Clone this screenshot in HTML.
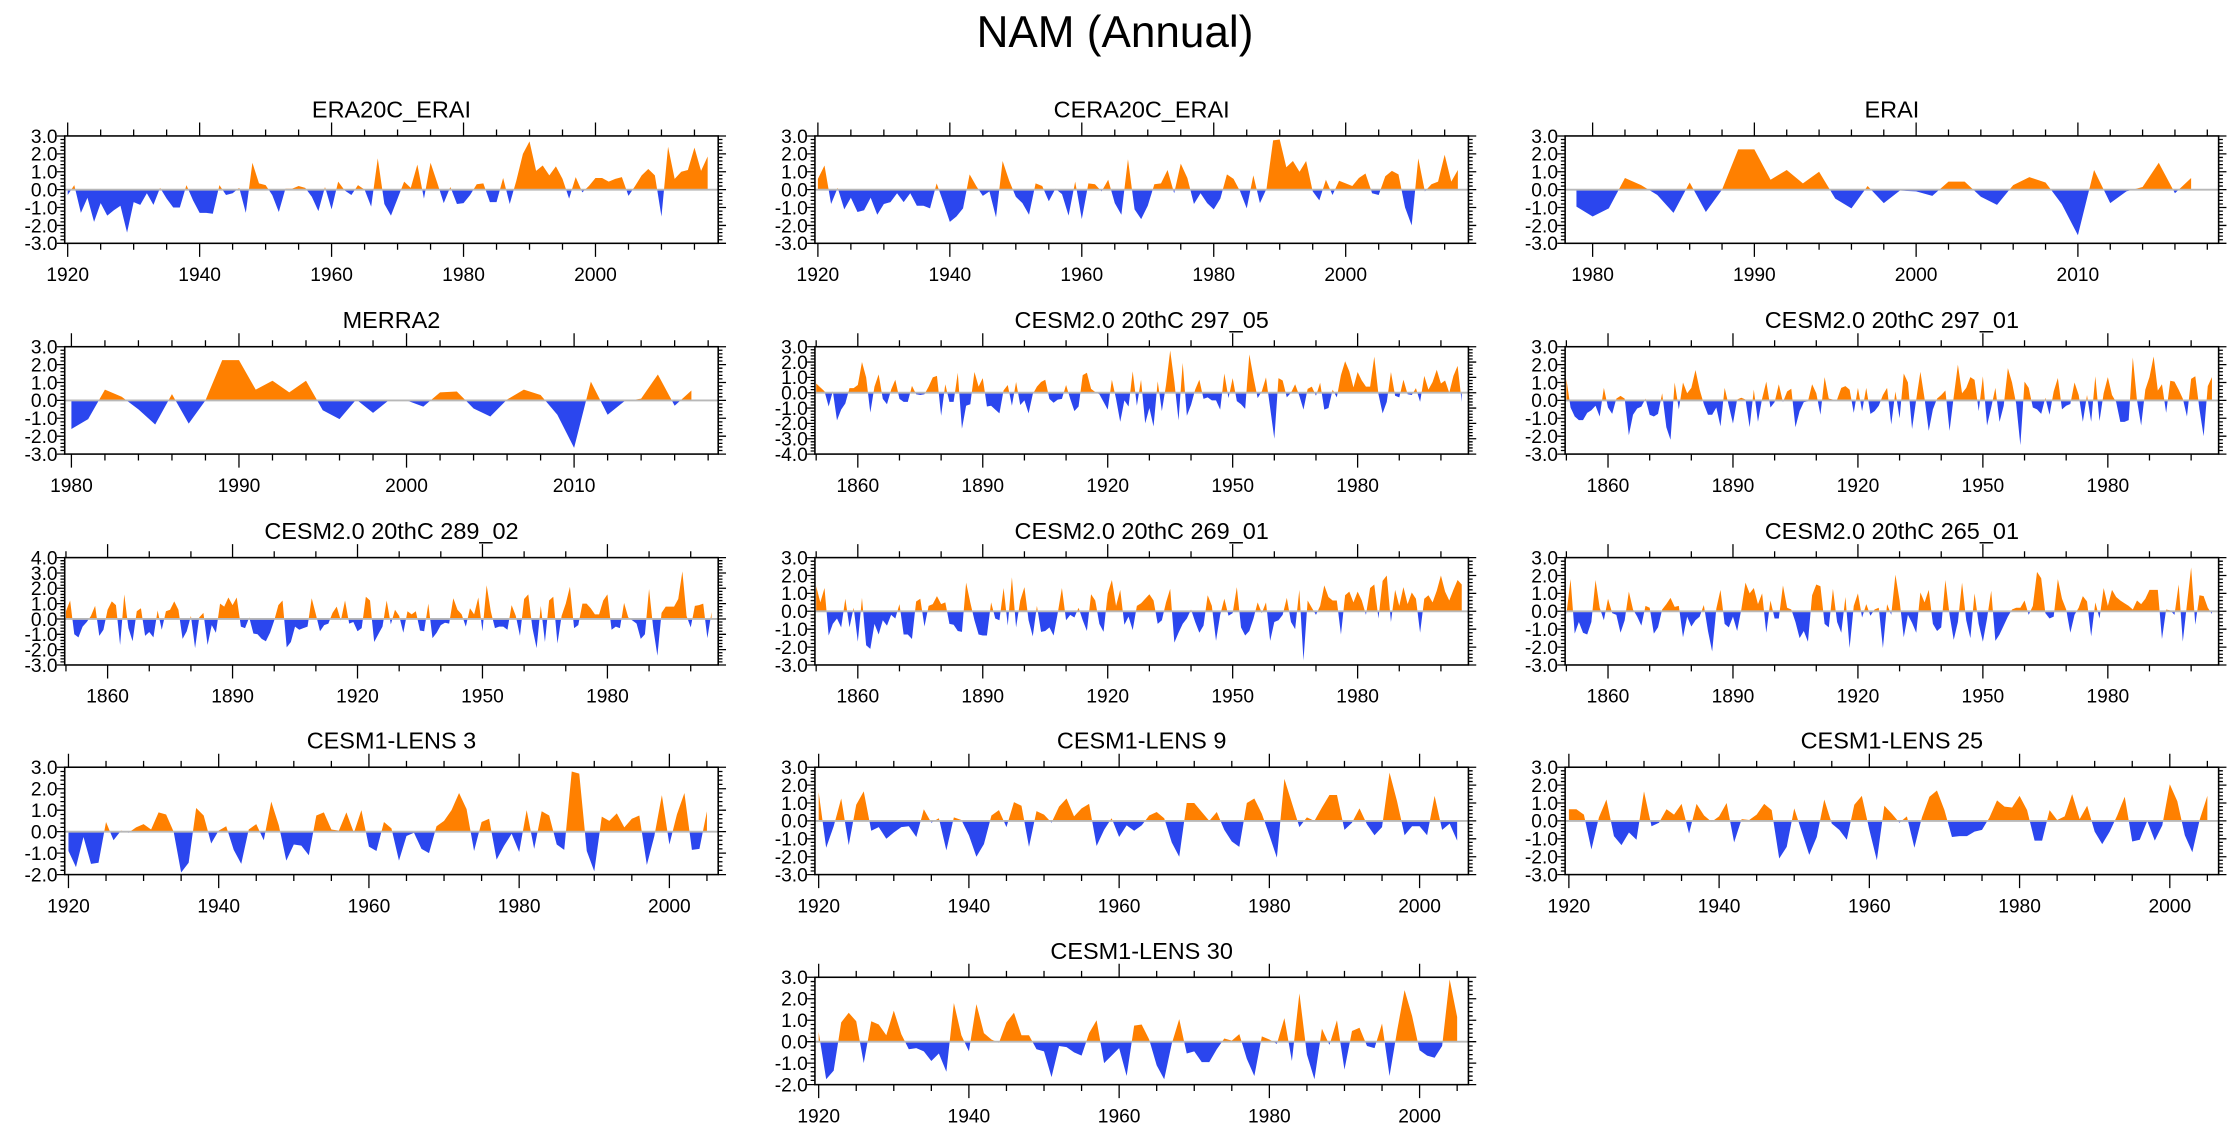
<!DOCTYPE html>
<html><head><meta charset="utf-8"><title>NAM (Annual)</title>
<style>html,body{margin:0;padding:0;background:#fff;}svg{display:block;}text{font-family:"Liberation Sans",Arial,sans-serif;fill:#000;}</style>
</head><body>
<svg id="fig" xmlns="http://www.w3.org/2000/svg" width="2230" height="1132" viewBox="0 0 1568 796" preserveAspectRatio="none">
<text x="784" y="33" font-size="31" text-anchor="middle">NAM (Annual)</text>
</svg>
<script>
const era20cVals=[-0.3,0.25,-1.3,-0.45,-1.8,-0.75,-1.45,-1.15,-0.9,-2.4,-0.7,-0.85,-0.2,-0.85,0.1,-0.5,-1.0,-1.0,0.25,-0.6,-1.3,-1.3,-1.35,0.25,-0.3,-0.2,0.1,-1.3,1.5,0.35,0.25,-0.3,-1.25,0.05,0.05,0.2,0.1,-0.4,-1.2,0.15,-1.1,0.45,-0.05,-0.3,0.25,0.0,-0.95,1.75,-0.8,-1.45,-0.5,0.45,0.1,1.4,-0.5,1.5,0.4,-0.75,0.15,-0.8,-0.75,-0.3,0.3,0.35,-0.7,-0.7,0.65,-0.8,0.5,2.0,2.7,1.05,1.35,0.8,1.3,0.6,-0.5,0.7,-0.15,0.2,0.65,0.65,0.45,0.6,0.7,-0.35,0.2,0.8,1.15,0.8,-1.5,2.4,0.6,1.0,1.1,2.35,1.05,1.85];
const cera20cVals=[0.6,1.35,-0.8,0.1,-1.1,-0.45,-1.25,-1.15,-0.45,-1.4,-0.8,-0.7,-0.2,-0.7,-0.2,-0.9,-0.9,-1.05,0.35,-0.7,-1.8,-1.5,-1.05,0.85,0.2,-0.35,-0.1,-1.55,1.6,0.5,-0.4,-0.75,-1.4,0.35,0.2,-0.65,0.05,-0.25,-1.45,0.45,-1.65,0.35,0.3,-0.1,0.55,-0.75,-1.4,1.7,-1.1,-1.65,-0.9,0.3,0.35,1.1,-0.2,1.45,0.65,-0.8,-0.2,-0.75,-1.1,-0.5,0.85,0.6,-0.1,-1.05,0.8,-0.75,0.05,2.75,2.8,1.25,1.6,1.0,1.6,-0.1,-0.6,0.55,-0.3,0.5,0.35,0.2,0.65,0.9,-0.2,-0.3,0.75,1.05,0.85,-1.0,-2.0,1.75,-0.1,0.3,0.45,1.95,0.45,1.1];
const eraiVals=[-0.95,-1.5,-1.05,0.65,0.25,-0.3,-1.3,0.4,-1.25,0.0,2.25,2.25,0.55,1.1,0.35,1.0,-0.5,-1.05,0.2,-0.75,-0.05,-0.1,-0.35,0.45,0.45,-0.4,-0.85,0.25,0.7,0.4,-0.8,-2.55,1.1,-0.75,-0.1,0.15,1.5,-0.2,0.65];
const merra2Vals=[-1.6,-1.05,0.6,0.2,-0.5,-1.35,0.35,-1.3,0.0,2.25,2.25,0.6,1.1,0.45,1.1,-0.55,-1.05,0.05,-0.7,0.05,0.0,-0.35,0.45,0.5,-0.45,-0.9,0.05,0.6,0.3,-0.8,-2.65,1.05,-0.8,-0.05,0.1,1.45,-0.3,0.55];
const c297_05Vals=[0.6,0.35,0.1,-0.9,0.1,-1.8,-1.1,-0.7,0.3,0.3,0.5,2.0,1.0,-1.3,0.4,1.2,-0.4,-0.75,0.2,0.85,-0.4,-0.6,-0.6,0.45,-0.1,-0.15,-0.1,0.4,1.0,1.1,-1.5,0.55,-0.6,-0.6,1.3,-2.35,-0.85,-0.75,1.35,0.4,0.95,-0.9,-0.85,-1.1,-1.35,0.15,0.5,-0.85,0.7,-0.8,-0.5,-1.35,-0.1,0.4,0.7,0.85,-0.4,-0.65,-0.45,-0.4,0.5,-0.4,-1.2,-0.9,1.15,1.3,0.25,0.05,-0.1,-0.6,-1.1,0.85,-0.4,-1.9,-0.5,-0.9,1.4,-0.85,0.85,-2.0,-1.0,-2.2,0.75,-1.2,0.5,2.75,0.7,-1.8,1.95,-1.5,-0.8,0.2,0.85,-0.4,-0.3,-0.5,-0.5,-1.1,1.25,-0.35,0.95,-0.55,-0.75,-1.05,2.5,1.0,-0.35,0.1,1.0,-1.0,-3.0,0.95,0.8,-0.3,0.0,0.55,-0.2,-1.1,0.25,0.4,-0.2,0.65,-1.1,-1.0,0.2,-0.3,1.15,2.05,1.4,0.35,1.35,0.8,0.4,0.4,2.35,-0.1,-1.35,-0.6,1.35,-0.2,-0.3,0.85,-0.1,-0.15,0.3,-0.6,1.1,0.2,0.7,1.5,0.6,0.8,0.0,1.1,1.75,-0.6];
const c297_01Vals=[1.2,-0.4,-0.9,-1.1,-1.1,-0.7,-0.55,-0.3,-0.9,0.7,-0.4,-0.75,0.1,0.25,0.1,-1.95,-0.8,-0.45,-0.35,0.1,-0.8,-0.9,-0.75,0.4,-1.5,-2.2,1.0,-0.5,1.0,0.4,0.7,1.7,0.6,-0.2,-0.8,-0.8,-0.4,-1.45,0.7,-0.3,-1.3,0.05,0.15,0.05,-1.5,0.6,-1.2,0.1,1.05,-0.4,-0.1,0.9,-0.1,0.5,0.65,-1.5,-0.6,-0.1,-0.05,0.9,0.4,-0.8,1.3,0.1,0.05,0.05,0.7,0.8,0.6,-0.7,0.7,-0.6,0.7,-0.75,-0.6,-0.3,0.3,0.7,-1.35,0.5,-1.0,1.5,1.0,-1.6,0.05,1.6,0.1,-1.7,-0.5,0.1,0.3,0.55,-1.7,0.2,2.0,0.4,0.7,1.3,1.15,-0.6,1.35,-1.4,-0.4,0.7,-1.2,-0.3,1.8,1.0,-0.2,-2.5,1.05,0.7,-0.4,-0.5,-0.75,0.15,-0.8,0.5,1.25,-0.5,-0.3,-0.2,1.0,0.3,-1.2,0.3,-1.2,1.35,-1.15,0.4,1.3,0.3,-0.1,-1.2,-1.2,-1.1,2.4,0.0,-1.4,0.6,1.3,2.45,0.55,0.9,-0.7,1.1,1.05,0.6,0.1,-0.9,1.2,1.35,-0.5,-2.0,0.8,1.3];
const c289_02Vals=[0.5,1.2,-1.0,-1.2,-0.5,-0.2,0.2,0.85,-1.1,-0.7,0.6,1.15,0.9,-1.7,1.6,-0.6,-1.45,0.5,0.7,-1.1,-0.85,-1.2,0.55,-0.7,0.5,0.6,1.15,0.6,-1.3,-0.8,0.2,-1.9,0.1,0.4,-1.7,-0.4,-0.9,1.0,0.8,1.4,0.9,1.4,-0.5,-0.6,0.1,-0.95,-1.0,-1.3,-1.45,-0.9,-0.1,0.9,1.2,-1.85,-1.5,-0.5,-0.7,-0.6,-0.5,1.35,0.3,-0.8,-0.4,-0.3,0.4,0.8,-0.1,1.2,-0.3,-0.2,-0.8,-0.6,1.45,1.2,-1.5,-1.0,-0.5,1.2,-0.35,0.6,0.2,-0.9,0.5,0.3,0.5,-0.75,-0.8,1.0,-1.25,-0.9,-0.4,-0.25,-0.3,1.35,0.6,0.3,-0.5,0.7,0.3,1.4,-0.8,2.2,0.5,-0.6,-0.5,-0.5,-0.7,0.9,0.2,-1.1,1.3,1.6,-0.6,-1.9,0.85,-1.5,1.2,1.45,-1.6,0.2,1.0,2.1,-0.6,-0.4,1.0,1.0,0.7,0.3,0.3,1.2,1.6,-0.7,-0.5,-0.6,1.05,0.1,-0.1,-0.3,-1.3,-1.0,1.95,-0.6,-2.4,0.4,0.8,0.8,0.8,1.3,3.1,0.2,-0.55,0.85,0.9,1.0,-1.25,0.45];
const c269_01Vals=[1.4,0.5,1.3,-1.35,-0.7,-0.4,-0.9,0.7,-0.9,0.2,-1.7,0.75,-1.9,-2.1,-0.7,-1.3,-0.5,-0.8,-0.2,-0.4,0.4,-1.3,-1.3,-1.55,0.55,0.7,-0.85,0.3,0.4,0.85,0.4,0.5,-0.7,-0.75,-1.1,-1.15,1.6,0.5,-0.5,-1.3,-1.35,-1.35,0.5,-0.4,-0.5,1.3,-0.8,1.9,-0.9,0.6,1.35,-0.5,-1.4,0.3,-1.15,-1.1,-0.9,-1.35,-0.1,1.3,-0.5,-0.2,-0.35,0.2,-0.5,-1.1,0.95,0.6,-0.7,-1.15,1.0,1.75,0.3,1.2,-0.75,-0.3,-1.05,0.3,0.45,0.7,0.95,0.6,-0.7,-0.5,0.5,1.25,-1.75,-1.2,-0.7,-0.4,0.1,-0.6,-1.2,-0.8,0.9,0.3,-1.65,-0.2,0.7,-0.25,-0.1,1.35,-0.9,-1.35,-1.1,-0.4,0.5,-0.1,0.5,-1.65,-0.6,-0.5,-0.2,0.75,-0.6,-1.0,1.2,-2.75,0.6,0.2,-0.2,0.3,1.45,0.8,0.6,0.6,-1.3,0.9,1.1,0.5,1.1,0.6,-0.2,1.3,1.5,-0.4,1.7,2.0,-0.6,1.2,0.3,1.35,0.4,1.05,0.7,-1.2,0.7,0.9,0.5,1.15,2.0,1.1,0.6,1.2,1.75,1.5];
const c265_01Vals=[-0.2,1.8,-1.25,-0.6,-1.2,-1.3,-0.6,1.75,0.2,-0.5,0.7,-0.1,-0.2,-1.2,-0.5,1.1,0.1,-0.3,-0.8,0.3,0.2,-1.25,-0.9,0.1,0.4,0.75,0.25,0.3,-1.45,-0.3,-0.85,-0.5,-0.3,0.35,-1.1,-2.25,0.15,1.2,-0.7,-0.9,-0.3,-1.1,0.1,1.6,1.0,1.3,0.4,1.0,-1.2,0.6,-0.4,-0.4,1.45,0.2,0.1,-0.6,-1.5,-1.1,-1.7,0.9,1.5,1.4,-0.7,-0.9,1.25,-0.6,-1.2,0.8,-2.05,0.3,1.0,-0.35,0.4,-0.25,0.1,0.2,-2.05,0.4,-0.2,2.05,0.6,-1.45,-0.2,-0.65,-1.2,1.05,0.5,1.2,-0.7,-1.1,-0.9,1.75,-0.2,-1.6,-0.6,1.6,-0.5,-1.5,1.0,-0.7,-1.7,-0.4,1.15,-1.65,-1.3,-0.8,-0.3,0.1,0.2,0.2,0.6,-0.2,0.3,2.2,1.85,-0.1,-0.4,-0.3,1.8,0.7,0.1,-1.2,-0.2,0.2,0.85,0.55,-1.4,0.5,-0.4,1.3,0.3,1.2,0.8,0.6,0.45,0.3,0.1,0.6,0.4,0.7,1.2,1.2,1.2,-1.55,0.1,0.05,-0.2,1.5,-1.7,0.4,2.45,-0.75,0.9,0.85,0.2,-0.15];
const lens3Vals=[-0.9,-1.65,-0.25,-1.5,-1.45,0.45,-0.4,0.05,-0.05,0.2,0.35,0.1,0.9,0.8,0.0,-1.9,-1.45,1.1,0.75,-0.55,0.05,0.25,-0.85,-1.5,0.1,0.35,-0.4,1.4,0.3,-1.35,-0.6,-0.65,-1.1,0.75,0.9,0.1,0.05,0.9,-0.05,1.0,-0.7,-0.9,0.45,0.15,-1.35,-0.2,-0.05,-0.8,-1.0,0.25,0.5,1.0,1.8,1.05,-0.9,0.45,0.6,-1.3,-0.65,-0.1,-0.95,1.0,-0.8,0.95,0.75,-0.6,-0.85,2.8,2.7,-0.9,-1.85,0.7,0.5,0.85,0.2,0.6,0.75,-1.55,-0.2,1.7,-0.6,0.8,1.8,-0.85,-0.8,0.95];
const lens9Vals=[1.6,-1.5,-0.3,1.25,-1.35,0.9,1.65,-0.55,-0.35,-1.0,-0.65,-0.35,-0.3,-0.9,0.65,-0.1,0.15,-1.65,0.2,0.05,-0.8,-2.0,-1.3,0.3,0.6,-0.35,1.05,0.85,-1.45,0.55,0.35,-0.1,0.8,1.25,0.25,0.7,0.95,-1.4,-0.5,0.15,-0.9,-0.25,-0.55,-0.25,0.3,0.5,0.15,-1.2,-2.0,1.0,1.0,0.5,0.0,0.5,-0.5,-1.15,-1.45,1.0,1.25,0.4,-0.8,-2.05,2.35,1.0,-0.35,0.2,0.0,0.75,1.45,1.45,-0.5,-0.1,0.7,-0.2,-0.8,-0.35,2.7,1.1,-0.8,-0.3,-0.3,-0.8,1.4,-0.5,-0.15,-1.1];
const lens25Vals=[0.65,0.65,0.35,-1.6,0.2,1.2,-0.85,-1.35,-0.65,-1.05,1.65,-0.3,-0.1,0.65,0.35,0.95,-0.7,0.95,0.3,-0.05,0.25,1.0,-1.2,0.1,0.05,0.35,0.95,0.6,-2.1,-1.45,0.7,-0.6,-1.9,-0.9,1.2,-0.15,-0.5,-1.05,0.9,1.4,-0.5,-2.2,0.85,0.4,-0.1,0.25,-1.5,0.2,1.35,1.7,0.6,-0.9,-0.85,-0.85,-0.6,-0.5,0.2,1.15,0.8,0.75,1.4,0.6,-1.1,-1.1,0.6,0.05,0.25,1.5,0.1,0.85,-0.6,-1.3,-0.6,0.3,1.35,-1.15,-1.05,0.0,-1.1,-0.25,2.05,1.1,-0.8,-1.75,0.1,1.4];
const lens30Vals=[0.45,-1.75,-1.35,0.9,1.35,0.95,-1.0,0.95,0.8,0.3,1.45,0.35,-0.35,-0.3,-0.45,-0.9,-0.55,-1.4,1.8,0.3,-0.45,1.75,0.4,0.1,-0.05,0.9,1.35,0.3,0.3,-0.35,-0.45,-1.65,-0.2,-0.25,-0.5,-0.65,0.4,1.0,-1.0,-0.65,-0.3,-1.6,0.75,0.8,0.1,-1.1,-1.75,-0.1,1.05,-0.55,-0.45,-0.95,-0.95,-0.35,0.15,0.05,0.35,-0.8,-1.6,0.25,0.1,-0.1,1.1,-0.9,2.25,-0.6,-1.75,0.6,-0.15,1.0,-1.3,0.5,0.65,-0.2,-0.3,0.85,-1.6,0.5,2.4,1.2,-0.4,-0.65,-0.75,-0.2,2.9,1.15];
const panelTitles=["ERA20C_ERAI","CERA20C_ERAI","ERAI","MERRA2","CESM2.0 20thC 297_05","CESM2.0 20thC 297_01","CESM2.0 20thC 289_02","CESM2.0 20thC 269_01","CESM2.0 20thC 265_01","CESM1-LENS 3","CESM1-LENS 9","CESM1-LENS 25","CESM1-LENS 30"];
const startYears=[1920,1920,1979,1980,1850,1850,1850,1850,1850,1920,1920,1920,1920];
const yMins=[-3,-3,-3,-3,-4,-3,-3,-3,-3,-2,-3,-3,-2];
const yMaxs=[3,3,3,3,3,3,4,3,3,3,3,3,3];
const allSeries=[era20cVals,cera20cVals,eraiVals,merra2Vals,c297_05Vals,c297_01Vals,c289_02Vals,c269_01Vals,c265_01Vals,lens3Vals,lens9Vals,lens25Vals,lens30Vals];

// layout (not data)
const colLeft=[45.5,573,1100.5], boxW=459.5, boxH=75.5;
const rowTop=[95.6,243.8,392.1,539.5,687.2];
const cells=[[0,0],[1,0],[2,0],[0,1],[1,1],[2,1],[0,2],[1,2],[2,2],[0,3],[1,3],[2,3],[1,4]];
const slugs=["era20c-erai","cera20c-erai","erai","merra2","cesm2-297-05","cesm2-297-01","cesm2-289-02","cesm2-269-01","cesm2-265-01","cesm1-lens-3","cesm1-lens-9","cesm1-lens-25","cesm1-lens-30"];

const NS="http://www.w3.org/2000/svg";
const svg=document.getElementById('fig');
function mk(tag,attrs,parent){const e=document.createElementNS(NS,tag);for(const k in attrs)e.setAttribute(k,attrs[k]);parent.appendChild(e);return e;}

function axisCfg(start,n){
  if(start===1850) return {xmin:1849.7,xmax:2006.6,major:30,minor:10,firstLab:1860};
  if(start===1979) return {xmin:1978.3,xmax:2018.7,major:10,minor:2,firstLab:1980};
  if(start===1980) return {xmin:1979.6,xmax:2018.6,major:10,minor:2,firstLab:1980};
  if(n>90) return {xmin:1919.55,xmax:2018.6,major:20,minor:5,firstLab:1920};
  return {xmin:1919.5,xmax:2006.5,major:20,minor:5,firstLab:1920};
}

function drawPanel(i){
  const vals=allSeries[i], start=startYears[i];
  const [c,r]=cells[i]; const L=colLeft[c], T=rowTop[r], R=L+boxW, B=T+boxH;
  const ax=axisCfg(start,vals.length);
  const ymin=yMins[i], ymax=yMaxs[i];
  const X=yr=>L+(yr-ax.xmin)/(ax.xmax-ax.xmin)*boxW;
  const Y=v=>B-(v-ymin)/(ymax-ymin)*boxH;
  const g=mk('g',{},svg);
  
  
  const t=mk('text',{x:(L+R)/2,y:T-13,'font-size':16.5,'text-anchor':'middle'},g);
  t.textContent=panelTitles[i];
  
  
  const pts=[];
  for(let k=0;k<vals.length;k++){
    const yr=start+k, v=vals[k];
    if(k>0){const pv=vals[k-1]; if((pv>0&&v<0)||(pv<0&&v>0)){const f=pv/(pv-v); pts.push([yr-1+f,0]);}}
    pts.push([yr,v]);
  }
  const y0=Y(0);
  function poly(sign){
    let d='M'+X(pts[0][0]).toFixed(2)+','+y0.toFixed(2);
    for(const p of pts){const v=sign>0?Math.max(p[1],0):Math.min(p[1],0);d+='L'+X(p[0]).toFixed(2)+','+Y(v).toFixed(2);}
    d+='L'+X(pts[pts.length-1][0]).toFixed(2)+','+y0.toFixed(2)+'Z';
    return d;
  }
  const pos=mk('path',{d:poly(1),fill:'#ff8000',stroke:'none'},g);
  
  
  const neg=mk('path',{d:poly(-1),fill:'#2b46ee',stroke:'none'},g);
  
  
  const zl=mk('line',{x1:L,x2:R,y1:y0,y2:y0,stroke:'#b8b8b8','stroke-width':1.3},g);
  
  
  const box=mk('rect',{x:L,y:T,width:boxW,height:boxH,fill:'none',stroke:'#000','stroke-width':1.1},g);
  
  
  let d='';
  for(let yr=Math.ceil(ax.xmin/ax.minor)*ax.minor; yr<=ax.xmax; yr+=ax.minor){
    const x=X(yr).toFixed(2); const maj=(yr%ax.major===(ax.firstLab%ax.major)); const len=maj?9.5:4.5;
    d+='M'+x+','+T+'v'+(-len)+'M'+x+','+B+'v'+len;
    if(maj){const lb=mk('text',{x:x,y:B+26.5,'font-size':13.5,'text-anchor':'middle'},g);lb.textContent=yr;
      
      }
  }
  for(let s=Math.round(ymin*5); s<=Math.round(ymax*5); s++){
    const v=s/5, y=Y(v).toFixed(2), maj=(s%5===0), len=maj?5.5:3;
    d+='M'+L+','+y+'h'+(-len)+'M'+R+','+y+'h'+len;
    if(maj){const lb=mk('text',{x:L-5,y:(+y+4.8),'font-size':13.5,'text-anchor':'end'},g);lb.textContent=v.toFixed(1);
      
      }
  }
  const tk=mk('path',{d:d,stroke:'#000','stroke-width':0.9,fill:'none'},g);
  
  
}
for(let i=0;i<allSeries.length;i++) drawPanel(i);
</script>
</body></html>
